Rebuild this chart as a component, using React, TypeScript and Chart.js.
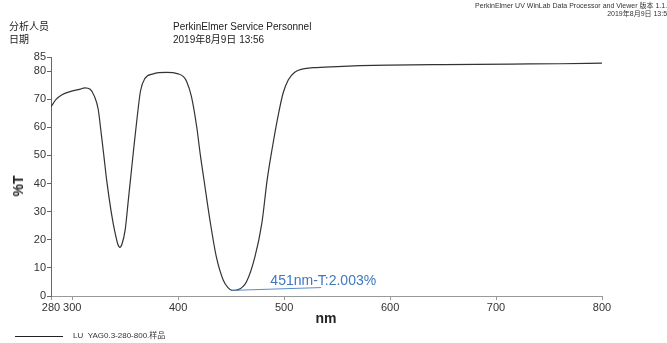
import React, { useEffect, useRef } from "react";
import { Chart, registerables } from "chart.js";

Chart.register(...registerables);

const wavelengths = [
  280, 285, 290, 298, 307, 312, 317, 321, 324.5, 327.5, 330, 332.5, 337, 340.5, 343, 345, 347, 350, 353, 356,
  358.5, 361, 364.5, 368.5, 376.5, 389, 400, 405, 408, 412.5, 417.5, 421, 424.5, 430, 436, 442.5, 447, 451, 456,
  464.5, 472.5, 479, 484, 489, 494.5, 499, 504, 510, 518, 527.5, 550, 571.5, 600, 650, 714, 760, 800,
];
const transmittance = [
  67.3, 70.0, 71.5, 72.7, 73.5, 74.0, 73.5, 71.0, 66.5, 57.5, 49.5, 41.3, 29.5, 22.4, 18.5, 17.3, 18.5, 23.5, 34.2, 45.0,
  54.0, 62.5, 73.0, 77.3, 79.0, 79.5, 79.0, 78.0, 76.3, 71.0, 60.2, 50.0, 41.0, 27.0, 14.0, 5.7, 3.0, 2.0, 2.2,
  5.1, 14.0, 25.9, 41.3, 53.0, 64.4, 72.1, 76.9, 79.6, 80.8, 81.2, 81.6, 81.9, 82.1, 82.3, 82.5, 82.6, 82.8,
];
const xTicks = [280, 300, 400, 500, 600, 700, 800];
const yTicks = [0, 10, 20, 30, 40, 50, 60, 70, 80, 85];
const peakLabel = "451nm-T:2.003%";
const peakLine = [
  [451, 2.0],
  [535, 3.0],
];
const peakTextAt = [487, 5.3];

const latin = '"Liberation Sans", Arial, sans-serif';
const cjk = '"Liberation Sans", "Noto Sans CJK SC", sans-serif';

const annotationPlugin = {
  id: "peakAnnotation",
  afterDatasetsDraw(chart: any) {
    const { ctx, scales } = chart;
    const xs = scales.x;
    const ys = scales.y;
    ctx.save();
    ctx.strokeStyle = "#5a8bc9";
    ctx.lineWidth = 1;
    ctx.beginPath();
    ctx.moveTo(xs.getPixelForValue(peakLine[0][0]), ys.getPixelForValue(peakLine[0][1]));
    ctx.lineTo(xs.getPixelForValue(peakLine[1][0]), ys.getPixelForValue(peakLine[1][1]));
    ctx.stroke();
    ctx.fillStyle = "#3f78c0";
    ctx.font = `14px ${latin}`;
    ctx.textAlign = "left";
    ctx.textBaseline = "middle";
    ctx.fillText(peakLabel, xs.getPixelForValue(peakTextAt[0]), ys.getPixelForValue(peakTextAt[1]));
    ctx.restore();
  },
};

export default function App() {
  const canvasRef = useRef<HTMLCanvasElement | null>(null);

  useEffect(() => {
    const canvas = canvasRef.current;
    if (!canvas) return;
    const chart = new Chart(canvas, {
      type: "line",
      data: {
        datasets: [
          {
            label: "LU  YAG0.3-280-800.样品",
            data: wavelengths.map((w, i) => ({ x: w, y: transmittance[i] })),
            borderColor: "#333333",
            borderWidth: 1.2,
            pointRadius: 0,
            cubicInterpolationMode: "monotone",
            fill: false,
          },
        ],
      },
      options: {
        responsive: false,
        devicePixelRatio: 1,
        animation: false,
        layout: { padding: { top: 57, right: 65, left: 0, bottom: 0 } },
        plugins: { legend: { display: false }, tooltip: { enabled: false } },
        scales: {
          x: {
            type: "linear",
            min: 280,
            max: 800,
            afterBuildTicks: (scale: any) => {
              scale.ticks = xTicks.map((v) => ({ value: v }));
            },
            afterFit: (scale: any) => {
              scale.height = 47;
            },
            ticks: {
              font: { size: 11, family: latin },
              color: "#333",
              padding: 1,
              maxRotation: 0,
              autoSkip: false,
            },
            grid: { drawOnChartArea: false, drawTicks: true, tickLength: 4, color: "#999" },
            border: { display: true, color: "#999" },
          },
          y: {
            min: 0,
            max: 85,
            afterBuildTicks: (scale: any) => {
              scale.ticks = yTicks.map((v) => ({ value: v }));
            },
            afterFit: (scale: any) => {
              scale.width = 51;
            },
            ticks: {
              font: { size: 11, family: latin },
              color: "#333",
              padding: 1,
              autoSkip: false,
            },
            grid: { drawOnChartArea: false, drawTicks: true, tickLength: 4, color: "#666" },
            border: { display: true, color: "#666" },
          },
        },
      },
      plugins: [annotationPlugin],
    } as any);
    return () => chart.destroy();
  }, []);

  const abs = (s: React.CSSProperties): React.CSSProperties => ({ position: "absolute", whiteSpace: "nowrap", ...s });

  return (
    <div style={{ position: "fixed", left: 0, top: 0, width: 667, height: 343, background: "#fff", overflow: "hidden" }}>
      <canvas ref={canvasRef} width={667} height={343} style={{ position: "absolute", left: 0, top: 0, width: 667, height: 343 }} />
      <div style={abs({ right: -4, top: 2, fontFamily: cjk, fontSize: 7, color: "#333", textAlign: "right", lineHeight: "8px" })}>
        PerkinElmer UV WinLab Data Processor and Viewer 版本 1.1.0
        <br />
        2019年8月9日 13:56
      </div>
      <div style={abs({ left: 9, top: 20, fontFamily: cjk, fontSize: 10, color: "#222", lineHeight: "13px" })}>
        分析人员
        <br />
        日期
      </div>
      <div style={abs({ left: 173, top: 20, fontFamily: cjk, fontSize: 10, color: "#222", lineHeight: "13px" })}>
        PerkinElmer Service Personnel
        <br />
        2019年8月9日 13:56
      </div>
      <div
        style={abs({
          left: 18,
          top: 186,
          transform: "translate(-50%, -50%) rotate(-90deg)",
          fontFamily: latin,
          fontSize: 14,
          fontWeight: "bold",
          color: "#222",
        })}
      >
        %T
      </div>
      <div style={abs({ left: 326, top: 318, transform: "translate(-50%, -50%)", fontFamily: latin, fontSize: 14, fontWeight: "bold", color: "#222" })}>
        nm
      </div>
      <div style={abs({ left: 15, top: 336, width: 48, height: 0, borderTop: "1.5px solid #222" })} />
      <div style={abs({ left: 73, top: 331, fontFamily: cjk, fontSize: 8, color: "#333", lineHeight: "10px" })}>
        LU&nbsp;&nbsp;YAG0.3-280-800.样品
      </div>
    </div>
  );
}
